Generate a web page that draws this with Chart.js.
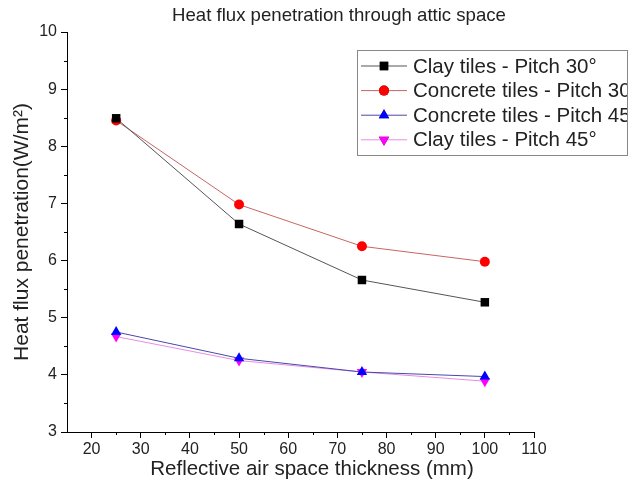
<!DOCTYPE html>
<html>
<head>
<meta charset="utf-8">
<script src="https://cdn.jsdelivr.net/npm/chart.js@4.4.0/dist/chart.umd.min.js"></script>
<style>
  html, body { margin: 0; padding: 0; background: #fff; }
  #wrap { width: 639px; height: 492px; }
</style>
</head>
<body>
<div id="wrap"><canvas id="fluxChart"></canvas></div>
<script>
// Data
const thickness = [25, 50, 75, 100]; // mm
const clay30 = [8.49, 6.64, 5.66, 5.27];
const concrete30 = [8.45, 6.98, 6.25, 5.98];
const concrete45 = [4.75, 4.29, 4.05, 3.97];
const clay45 = [4.67, 4.25, 4.05, 3.89];
const xTicks = [20, 30, 40, 50, 60, 70, 80, 90, 100, 110];
const yTicks = [3, 4, 5, 6, 7, 8, 9, 10];

const FONT = '"Liberation Sans", Arial, sans-serif';

const toPoints = ys => ys.map((y, i) => ({ x: thickness[i], y: y }));

// Minor ticks, titles and boxed legend drawn on the canvas
const extras = {
    id: 'extras',
    afterDraw(chart) {
        const c = chart.ctx;
        const xs = chart.scales.x, ys = chart.scales.y;
        c.save();
        c.strokeStyle = '#000';
        c.lineWidth = 1;
        // minor ticks
        for (let v = 25; v < 110; v += 10) {
            const px = Math.round(xs.getPixelForValue(v)) + 0.5;
            c.beginPath(); c.moveTo(px, xs.top); c.lineTo(px, xs.top + 3); c.stroke();
        }
        for (let v = 3.5; v < 10; v += 1) {
            const py = Math.round(ys.getPixelForValue(v)) + 0.5;
            c.beginPath(); c.moveTo(ys.right, py); c.lineTo(ys.right - 3, py); c.stroke();
        }
        // titles
        c.fillStyle = '#222';
        c.font = '18.6px ' + FONT;
        c.textAlign = 'center';
        c.textBaseline = 'middle';
        c.fillText('Heat flux penetration through attic space', 339, 16);
        c.font = '20.5px ' + FONT;
        c.fillText('Reflective air space thickness (mm)', 312, 469);
        // legend
        const lx = 357, ly = 50, lw = 270, lh = 105;
        c.strokeStyle = '#888';
        c.strokeRect(lx + 0.5, ly + 0.5, lw, lh);
        c.beginPath(); c.rect(lx, ly, lw, lh); c.clip();
        c.font = '20.5px ' + FONT;
        c.textAlign = 'left';
        chart.data.datasets.forEach((ds, i) => {
            const y = ly + 16 + i * 24.6;
            c.strokeStyle = ds.borderColor;
            c.lineWidth = 1;
            c.beginPath(); c.moveTo(lx + 4, y); c.lineTo(lx + 50, y); c.stroke();
            Chart.helpers.drawPoint(c, {
                pointStyle: ds.pointStyle,
                radius: ds.pointRadius,
                rotation: ds.pointRotation || 0,
                borderWidth: 0
            }, lx + 27, y);
            c.fillStyle = ds.pointBackgroundColor;
            c.fill();
            c.fillStyle = '#222';
            c.fillText(ds.label, lx + 56, y + 1);
        });
        c.restore();
    }
};

const ctx = document.getElementById('fluxChart').getContext('2d');
const fluxChart = new Chart(ctx, {
    type: 'line',
    data: {
        datasets: [
            {
                label: 'Clay tiles - Pitch 30°',
                data: toPoints(clay30),
                borderColor: '#555555',
                backgroundColor: '#000000',
                pointBackgroundColor: '#000000',
                pointBorderColor: '#000000',
                pointStyle: 'rect',
                pointRadius: 6,
                pointBorderWidth: 0,
                borderWidth: 1
            },
            {
                label: 'Concrete tiles - Pitch 30°',
                data: toPoints(concrete30),
                borderColor: '#c86464',
                backgroundColor: '#ff0000',
                pointBackgroundColor: '#ff0000',
                pointBorderColor: '#ff0000',
                pointStyle: 'circle',
                pointRadius: 5,
                pointBorderWidth: 0,
                borderWidth: 1
            },
            {
                label: 'Concrete tiles - Pitch 45°',
                data: toPoints(concrete45),
                borderColor: '#4848a8',
                backgroundColor: '#0000ff',
                pointBackgroundColor: '#0000ff',
                pointBorderColor: '#0000ff',
                pointStyle: 'triangle',
                pointRadius: 6,
                pointBorderWidth: 0,
                borderWidth: 1
            },
            {
                label: 'Clay tiles - Pitch 45°',
                data: toPoints(clay45),
                borderColor: '#e58ce5',
                backgroundColor: '#ff00ff',
                pointBackgroundColor: '#ff00ff',
                pointBorderColor: '#ff00ff',
                pointStyle: 'triangle',
                pointRotation: 180,
                pointRadius: 6,
                pointBorderWidth: 0,
                borderWidth: 1
            }
        ]
    },
    options: {
        responsive: true,
        maintainAspectRatio: false,
        animation: false,
        layout: { padding: { top: 32, right: 105, left: 10, bottom: 0 } },
        plugins: {
            legend: { display: false },
            title: { display: false },
            tooltip: { enabled: false }
        },
        scales: {
            x: {
                type: 'linear',
                min: 15,
                max: 110,
                afterBuildTicks: axis => { axis.ticks = xTicks.map(v => ({ value: v })); },
                afterFit: axis => { axis.height = 60; },
                grid: { drawOnChartArea: false, tickLength: 6, tickColor: '#000' },
                border: { color: '#000', width: 1 },
                ticks: { color: '#222', font: { family: FONT, size: 16 }, padding: 2, autoSkip: false, maxRotation: 0 }
            },
            y: {
                min: 3,
                max: 10,
                afterBuildTicks: axis => { axis.ticks = yTicks.map(v => ({ value: v })); },
                afterFit: axis => { axis.width = 57; },
                grid: { drawOnChartArea: false, tickLength: 6, tickColor: '#000' },
                border: { color: '#000', width: 1 },
                ticks: { color: '#222', font: { family: FONT, size: 16 }, padding: 4, autoSkip: false },
                title: {
                    display: true,
                    text: 'Heat flux penetration(W/m²)',
                    color: '#222',
                    font: { family: FONT, size: 21 },
                    padding: { top: 0, bottom: 4 }
                }
            }
        }
    },
    plugins: [extras]
});
</script>
</body>
</html>
